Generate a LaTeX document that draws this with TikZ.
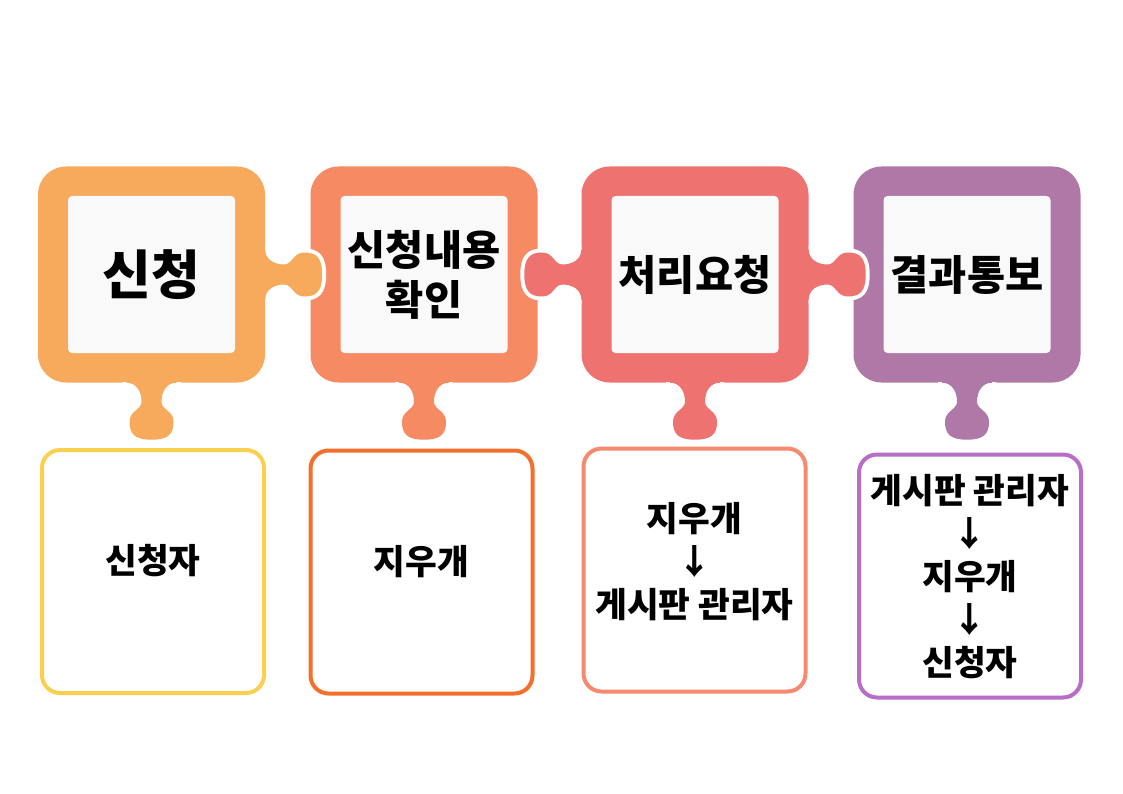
\documentclass[tikz,border=0pt]{standalone}
\usepackage{fontspec}
\newfontfamily\kr{Noto Sans CJK KR}
\usepackage{xcolor}
\usepackage{tikz}

\definecolor{tileA}{HTML}{F7A95C}
\definecolor{tileB}{HTML}{F68B63}
\definecolor{tileC}{HTML}{EE7270}
\definecolor{tileD}{HTML}{AF78A6}
\definecolor{lineA}{HTML}{FBD051}
\definecolor{lineB}{HTML}{F36F2C}
\definecolor{lineC}{HTML}{F68A6F}
\definecolor{lineD}{HTML}{B86DC8}
\definecolor{paper}{HTML}{F9F9F9}

\tikzset{
  tile/.style={rounded corners=28pt, minimum width=227pt, minimum height=216pt, inner sep=0pt},
  stepname/.style={fill=paper, rounded corners=4pt, minimum width=167pt, minimum height=157pt,
    inner sep=0pt, align=center, font=\kr\bfseries\fontsize{41.5}{50}\selectfont},
  rolebox/.style={draw, line width=4pt, rounded corners=18pt, minimum width=222pt,
    minimum height=243pt, inner sep=0pt},
  roletext/.style={align=center, font=\kr\bfseries\fontsize{34.5}{43}\selectfont},
  tabshape/.style={insert path={(-3,-25) -- (0,-25) .. controls (0,-15) and (9,-10) .. (19,-10)
    .. controls (27,-10) and (28,-22) .. (39,-22)
    .. controls (51,-22) and (57,-17) .. (57,0)
    .. controls (57,17) and (51,22) .. (39,22)
    .. controls (28,22) and (27,10) .. (19,10)
    .. controls (9,10) and (0,15) .. (0,25) -- (-3,25) -- cycle}}
}

% puzzle knob: colour, anchor, direction
\newcommand\puzzletab[3]{%
  \begin{scope}[shift={(#2)}, rotate=#3]
    \begin{scope}
      \clip (0,-40) rectangle (70,40);
      \draw[white, line width=8pt, tabshape];
    \end{scope}
    \fill[#1, tabshape];
  \end{scope}}

\begin{document}
\begin{tikzpicture}[x=1pt, y=-1pt]
    \useasboundingbox (0,0) rectangle (1123,794);
    \fill[white] (0,0) rectangle (1123,794);

    % Puzzle tiles
    \node[tile, fill=tileA] (t1) at (151.5,274.5) {};
    \node[tile, fill=tileB] (t2) at (424,274.5) {};
    \node[tile, fill=tileC] (t3) at (695,274.5) {};
    \node[tile, fill=tileD] (t4) at (967,274.5) {};

    % Knobs between tiles
    \puzzletab{tileA}{t1.east}{0}
    \puzzletab{tileC}{t3.west}{180}
    \puzzletab{tileC}{t3.east}{0}

    % Knobs towards the boxes
    \puzzletab{tileA}{t1.south}{-90}
    \puzzletab{tileB}{t2.south}{-90}
    \puzzletab{tileC}{t3.south}{-90}
    \puzzletab{tileD}{t4.south}{-90}

    % Step names
    \node[stepname, font=\kr\bfseries\fontsize{53}{58}\selectfont] (s1) at (t1) {신청};
    \node[stepname] (s2) at (t2) {신청내용\\확인};
    \node[stepname] (s3) at (t3) {처리요청};
    \node[stepname] (s4) at (t4) {결과통보};

    % Who handles each step
    \node[rolebox, draw=lineA] (b1) at (153,571.5) {};
    \node[rolebox, draw=lineB] (b2) at (421.5,572) {};
    \node[rolebox, draw=lineC] (b3) at (694.5,570) {};
    \node[rolebox, draw=lineD] (b4) at (970,576) {};

    \node[roletext] (r1) at (153,561) {신청자};
    \node[roletext] (r2) at (421.5,562) {지우개};
    \node[roletext] (r3) at (694.5,562) {지우개\\↓\\게시판 관리자};
    \node[roletext] (r4) at (970,577) {게시판 관리자\\↓\\지우개\\↓\\신청자};
\end{tikzpicture}
\end{document}
